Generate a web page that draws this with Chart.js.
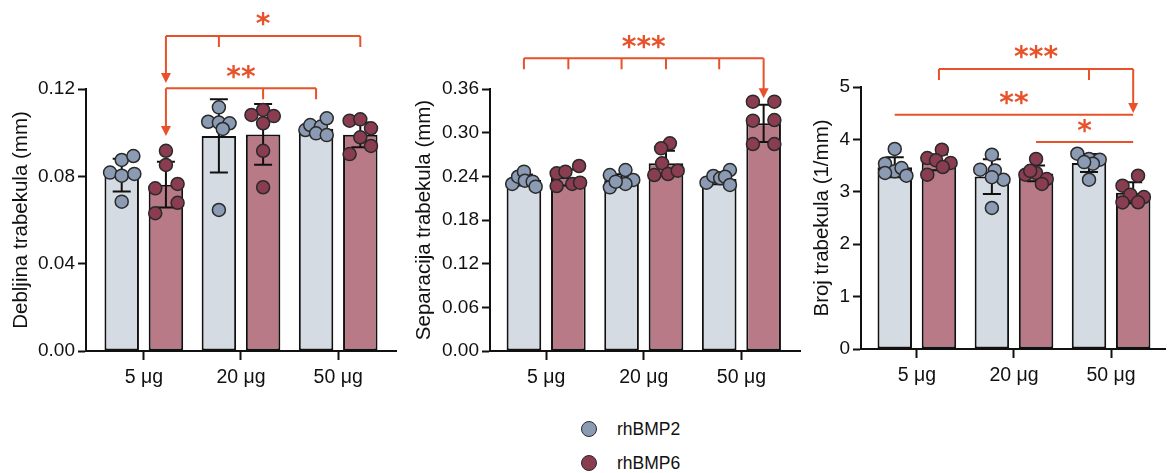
<!DOCTYPE html>
<html>
<head>
<meta charset="utf-8">
<script src="https://cdn.jsdelivr.net/npm/chart.js@4.4.1/dist/chart.umd.min.js"></script>
<style>
  body { margin: 0; background: #fff; width: 1173px; height: 473px; position: relative; overflow: hidden;
         font-family: "Liberation Sans", Arial, sans-serif; }
  canvas { position: absolute; top: 0; }
  .key { position: absolute; left: 581px; width: 14px; height: 14px; border-radius: 50%; border: 1.5px solid #2a2a2a; }
  .keytxt { position: absolute; left: 617px; font-size: 17.5px; color: #111; line-height: 20px; }
</style>
</head>
<body>
<canvas id="p1" width="404" height="400" style="left:0px"></canvas>
<canvas id="p2" width="404" height="400" style="left:404px"></canvas>
<canvas id="p3" width="398" height="400" style="left:775px"></canvas>

<div class="key" style="top:421px; background:#8b9bb3"></div>
<div class="keytxt" style="top:419px">rhBMP2</div>
<div class="key" style="top:455px; background:#8a3c51"></div>
<div class="keytxt" style="top:453px">rhBMP6</div>

<script>
const doses = ["5 μg", "20 μg", "50 μg"];

// Debljina trabekula (mm)
const thickTicks = [0, 0.04, 0.08, 0.12];
const thickMean2 = [0.0805, 0.0985, 0.1018];
const thickSd2 = [0.0075, 0.0168, 0.0025];
const thickMean6 = [0.0762, 0.0992, 0.0990];
const thickSd6 = [0.0105, 0.0139, 0.0057];
const thickPts2 = [
  [0.0817, 0.0875, 0.0893, 0.0803, 0.0811, 0.0684],
  [0.1116, 0.1050, 0.1046, 0.1043, 0.1017, 0.0646],
  [0.1012, 0.1035, 0.1028, 0.1066, 0.0997, 0.0989]
];
const thickJit2 = [
  [-0.12, 0, 0.12, 0, 0.13, 0],
  [0, -0.11, 0, 0.11, 0.04, 0],
  [-0.11, -0.06, 0.05, 0.11, 0, 0.11]
];
const thickPts6 = [
  [0.0917, 0.0852, 0.0745, 0.0765, 0.0679, 0.0631],
  [0.1104, 0.1081, 0.1076, 0.1043, 0.0917, 0.0750],
  [0.1055, 0.1061, 0.1020, 0.0979, 0.0939, 0.0902]
];
const thickJit6 = [
  [0, 0, -0.11, 0.12, 0.12, -0.11],
  [0, -0.12, 0.11, 0, 0, 0],
  [-0.11, 0, 0.11, 0, 0.11, -0.11]
];

// Separacija trabekula (mm)
const sepTicks = [0, 0.06, 0.12, 0.18, 0.24, 0.30, 0.36];
const sepMean2 = [0.2350, 0.2345, 0.2365];
const sepSd2 = [0.0075, 0.0085, 0.0075];
const sepMean6 = [0.2385, 0.2580, 0.3128];
const sepSd6 = [0.0110, 0.0170, 0.0257];
const sepPts2 = [
  [0.2295, 0.2395, 0.2464, 0.2340, 0.2327, 0.2258],
  [0.2418, 0.2487, 0.2350, 0.2249, 0.2295, 0.2327],
  [0.2313, 0.2405, 0.2373, 0.2487, 0.2395, 0.2281]
];
const sepJit2 = [
  [-0.12, -0.06, 0, 0.01, 0.09, 0.12],
  [-0.12, 0.04, 0.12, -0.12, 0.04, -0.06],
  [-0.13, -0.06, 0.01, 0.11, 0.06, 0.11]
];
const sepPts6 = [
  [0.2441, 0.2464, 0.2542, 0.2267, 0.2295, 0.2313],
  [0.2854, 0.2785, 0.2579, 0.2418, 0.2432, 0.2477],
  [0.3426, 0.3426, 0.3165, 0.3174, 0.2844, 0.2844]
];
const sepJit6 = [
  [-0.12, -0.03, 0.11, -0.12, 0.04, 0.12],
  [0.04, -0.05, -0.04, -0.12, 0.02, 0.12],
  [-0.11, 0.11, -0.11, 0.11, -0.11, 0.11]
];

// Broj trabekula (1/mm)
const numTicks = [0, 1, 2, 3, 4, 5];
const numMean2 = [3.47, 3.29, 3.55];
const numSd2 = [0.19, 0.33, 0.17];
const numMean6 = [3.56, 3.35, 2.98];
const numSd6 = [0.15, 0.15, 0.20];
const numPts2 = [
  [3.817, 3.536, 3.390, 3.454, 3.359, 3.307],
  [3.708, 3.422, 3.408, 3.231, 3.280, 2.691],
  [3.727, 3.626, 3.613, 3.536, 3.567, 3.231]
];
const numJit2 = [
  [0, -0.1, 0, 0.07, -0.1, 0.12],
  [0, -0.12, 0.03, 0.12, 0, 0],
  [-0.12, 0, 0.11, 0.04, -0.05, 0]
];
const numPts6 = [
  [3.803, 3.645, 3.600, 3.550, 3.473, 3.326],
  [3.626, 3.326, 3.359, 3.244, 3.400, 3.150],
  [3.307, 3.116, 2.945, 2.900, 2.798, 2.800]
];
const numJit6 = [
  [0.03, -0.12, -0.03, 0.12, 0.04, -0.12],
  [0, -0.11, 0, 0.11, -0.06, 0.06],
  [0.05, -0.11, -0.03, 0.11, -0.11, 0.05]
];

// significance brackets: [dose index, series (0 = rhBMP2, 1 = rhBMP6)]
const thickSig = [
  { stars: "*", level: 0.1443, span: [[0, 1], [2, 1]], ticks: [[1, 0], [2, 1]], arrow: { at: [0, 1], tip: 0.1228 } },
  { stars: "**", level: 0.1203, span: [[0, 1], [2, 0]], ticks: [[1, 1], [2, 0]], arrow: { at: [0, 1], tip: 0.0985 } }
];
const sepSig = [
  { stars: "***", level: 0.4022, span: [[0, 0], [2, 1]], ticks: [[0, 0], [0, 1], [1, 0], [1, 1], [2, 0]], arrow: { at: [2, 1], tip: 0.3472 } }
];
const numSig = [
  { stars: "***", level: 5.344, span: [[0, 1], [2, 1]], ticks: [[0, 1], [2, 0]], arrow: { at: [2, 1], tip: 4.504 } },
  { stars: "**", level: 4.471, span: [[0, 0], [2, 1]], ticks: [] },
  { stars: "*", level: 3.95, span: [[1, 1], [2, 1]], ticks: [] }
];

const catPct = 0.91;
const barPct = 0.78;
const sideOff = catPct / 4;
const FONT = "'Liberation Sans', Arial, sans-serif";
const sigColor = "#e8522b";
const pos = (g, s) => g + (s ? sideOff : -sideOff);

const errorBars = {
  id: "errorBars",
  afterDatasetDraw(chart, args) {
    const ds = chart.data.datasets[args.index];
    if (!ds.errors) return;
    const { ctx } = chart;
    const y = chart.scales.y;
    ctx.save();
    ctx.strokeStyle = "#111";
    ctx.lineWidth = 2;
    args.meta.data.forEach((el, i) => {
      const m = ds.data[i].y, e = ds.errors[i];
      const yt = y.getPixelForValue(m + e), yb = y.getPixelForValue(m - e);
      ctx.beginPath();
      ctx.moveTo(el.x, yt); ctx.lineTo(el.x, yb);
      ctx.moveTo(el.x - 9, yt); ctx.lineTo(el.x + 9, yt);
      ctx.moveTo(el.x - 9, yb); ctx.lineTo(el.x + 9, yb);
      ctx.stroke();
    });
    ctx.restore();
  }
};

const brackets = {
  id: "brackets",
  afterDraw(chart, args, opts) {
    const { ctx } = chart;
    const { x, y } = chart.scales;
    const px = p => x.getPixelForValue(pos(p[0], p[1]));
    ctx.save();
    ctx.strokeStyle = sigColor;
    ctx.fillStyle = sigColor;
    ctx.lineWidth = 2;
    ctx.font = "bold 28px 'DejaVu Sans'";
    ctx.textAlign = "center";
    ctx.textBaseline = "alphabetic";
    (opts.list || []).forEach(b => {
      const yl = y.getPixelForValue(b.level);
      const x0 = px(b.span[0]), x1 = px(b.span[1]);
      ctx.beginPath();
      ctx.moveTo(x0, yl); ctx.lineTo(x1, yl);
      b.ticks.forEach(t => { const xt = px(t); ctx.moveTo(xt, yl); ctx.lineTo(xt, yl + 11); });
      ctx.stroke();
      if (b.arrow) {
        const xa = px(b.arrow.at), ya = y.getPixelForValue(b.arrow.tip);
        ctx.beginPath();
        ctx.moveTo(xa, yl); ctx.lineTo(xa, ya - 8);
        ctx.stroke();
        ctx.beginPath();
        ctx.moveTo(xa - 5, ya - 10); ctx.lineTo(xa + 5, ya - 10); ctx.lineTo(xa, ya);
        ctx.closePath();
        ctx.fill();
      }
      const m = ctx.measureText(b.stars);
      const cy = yl - 16.5;
      ctx.fillText(b.stars, (x0 + x1) / 2, cy - (m.actualBoundingBoxDescent - m.actualBoundingBoxAscent) / 2);
    });
    ctx.restore();
  }
};

function makePanel(id, p) {
  const barSet = (label, means, sds, fill) => ({
    type: "bar", label, order: 2,
    data: means.map((m, i) => ({ x: i, y: m })),
    errors: sds,
    backgroundColor: fill, borderColor: "#111", borderWidth: 2, borderSkipped: false,
    barPercentage: barPct, categoryPercentage: catPct
  });
  const dotSet = (label, pts, jit, side, fill) => ({
    type: "scatter", label, order: 1, clip: false,
    data: pts.flatMap((vals, g) => vals.map((v, k) => ({ x: pos(g, side) + jit[g][k], y: v }))),
    pointRadius: 6.5, pointHoverRadius: 6.5, pointBorderWidth: 1.5,
    pointBackgroundColor: fill, pointBorderColor: "#2a2a2a"
  });

  new Chart(document.getElementById(id), {
    type: "bar",
    data: {
      datasets: [
        barSet("rhBMP2", p.mean2, p.sd2, "#d5dbe2"),
        barSet("rhBMP6", p.mean6, p.sd6, "#b97a87"),
        dotSet("rhBMP2", p.pts2, p.jit2, 0, "#8b9bb3"),
        dotSet("rhBMP6", p.pts6, p.jit6, 1, "#8a3c51")
      ]
    },
    options: {
      responsive: false,
      animation: false,
      events: [],
      layout: { padding: { top: p.top, right: p.right, left: 0, bottom: 0 } },
      plugins: {
        legend: { display: false },
        tooltip: { enabled: false },
        brackets: { list: p.sig }
      },
      scales: {
        x: {
          type: "linear",
          offset: false,
          min: p.xMin, max: p.xMax,
          afterBuildTicks: s => { s.ticks = doses.map((d, i) => ({ value: i })); },
          afterFit: s => { s.height = p.xHeight; },
          ticks: {
            callback: v => doses[v],
            color: "#111", padding: 6,
            font: { size: 19.5, family: FONT }
          },
          grid: { offset: false, drawOnChartArea: false, tickLength: 9, tickWidth: 2, tickColor: "#111" },
          border: { display: true, color: "#111", width: 2 }
        },
        y: {
          min: 0, max: p.yTicks[p.yTicks.length - 1],
          afterBuildTicks: s => { s.ticks = p.yTicks.map(v => ({ value: v })); },
          afterFit: s => { s.width = 86; },
          ticks: {
            callback: v => v.toFixed(p.dec),
            color: "#111", padding: 3,
            font: { size: 19, family: FONT }
          },
          grid: { drawOnChartArea: false, tickLength: 8, tickWidth: 2, tickColor: "#111" },
          border: { display: true, color: "#111", width: 2 },
          title: {
            display: true, text: p.title, color: "#111",
            font: { size: 20.5, family: FONT },
            padding: { top: p.titlePad, bottom: 0 }
          }
        }
      }
    },
    plugins: [errorBars, brackets]
  });
}

makePanel("p1", {
  title: "Debljina trabekula (mm)", yTicks: thickTicks, dec: 2,
  mean2: thickMean2, sd2: thickSd2, mean6: thickMean6, sd6: thickSd6,
  pts2: thickPts2, jit2: thickJit2, pts6: thickPts6, jit6: thickJit6, sig: thickSig,
  top: 89, right: 2, xHeight: 49, xMin: -0.595, xMax: 2.595, titlePad: 9
});
makePanel("p2", {
  title: "Separacija trabekula (mm)", yTicks: sepTicks, dec: 2,
  mean2: sepMean2, sd2: sepSd2, mean6: sepMean6, sd6: sepSd6,
  pts2: sepPts2, jit2: sepJit2, pts6: sepPts6, jit6: sepJit6, sig: sepSig,
  top: 89, right: 2, xHeight: 49, xMin: -0.575, xMax: 2.6, titlePad: 8
});
makePanel("p3", {
  title: "Broj trabekula (1/mm)", yTicks: numTicks, dec: 0,
  mean2: numMean2, sd2: numSd2, mean6: numMean6, sd6: numSd6,
  pts2: numPts2, jit2: numJit2, pts6: numPts6, jit6: numJit6, sig: numSig,
  top: 87, right: 1, xHeight: 51, xMin: -0.575, xMax: 2.555, titlePad: 35
});
</script>
</body>
</html>
